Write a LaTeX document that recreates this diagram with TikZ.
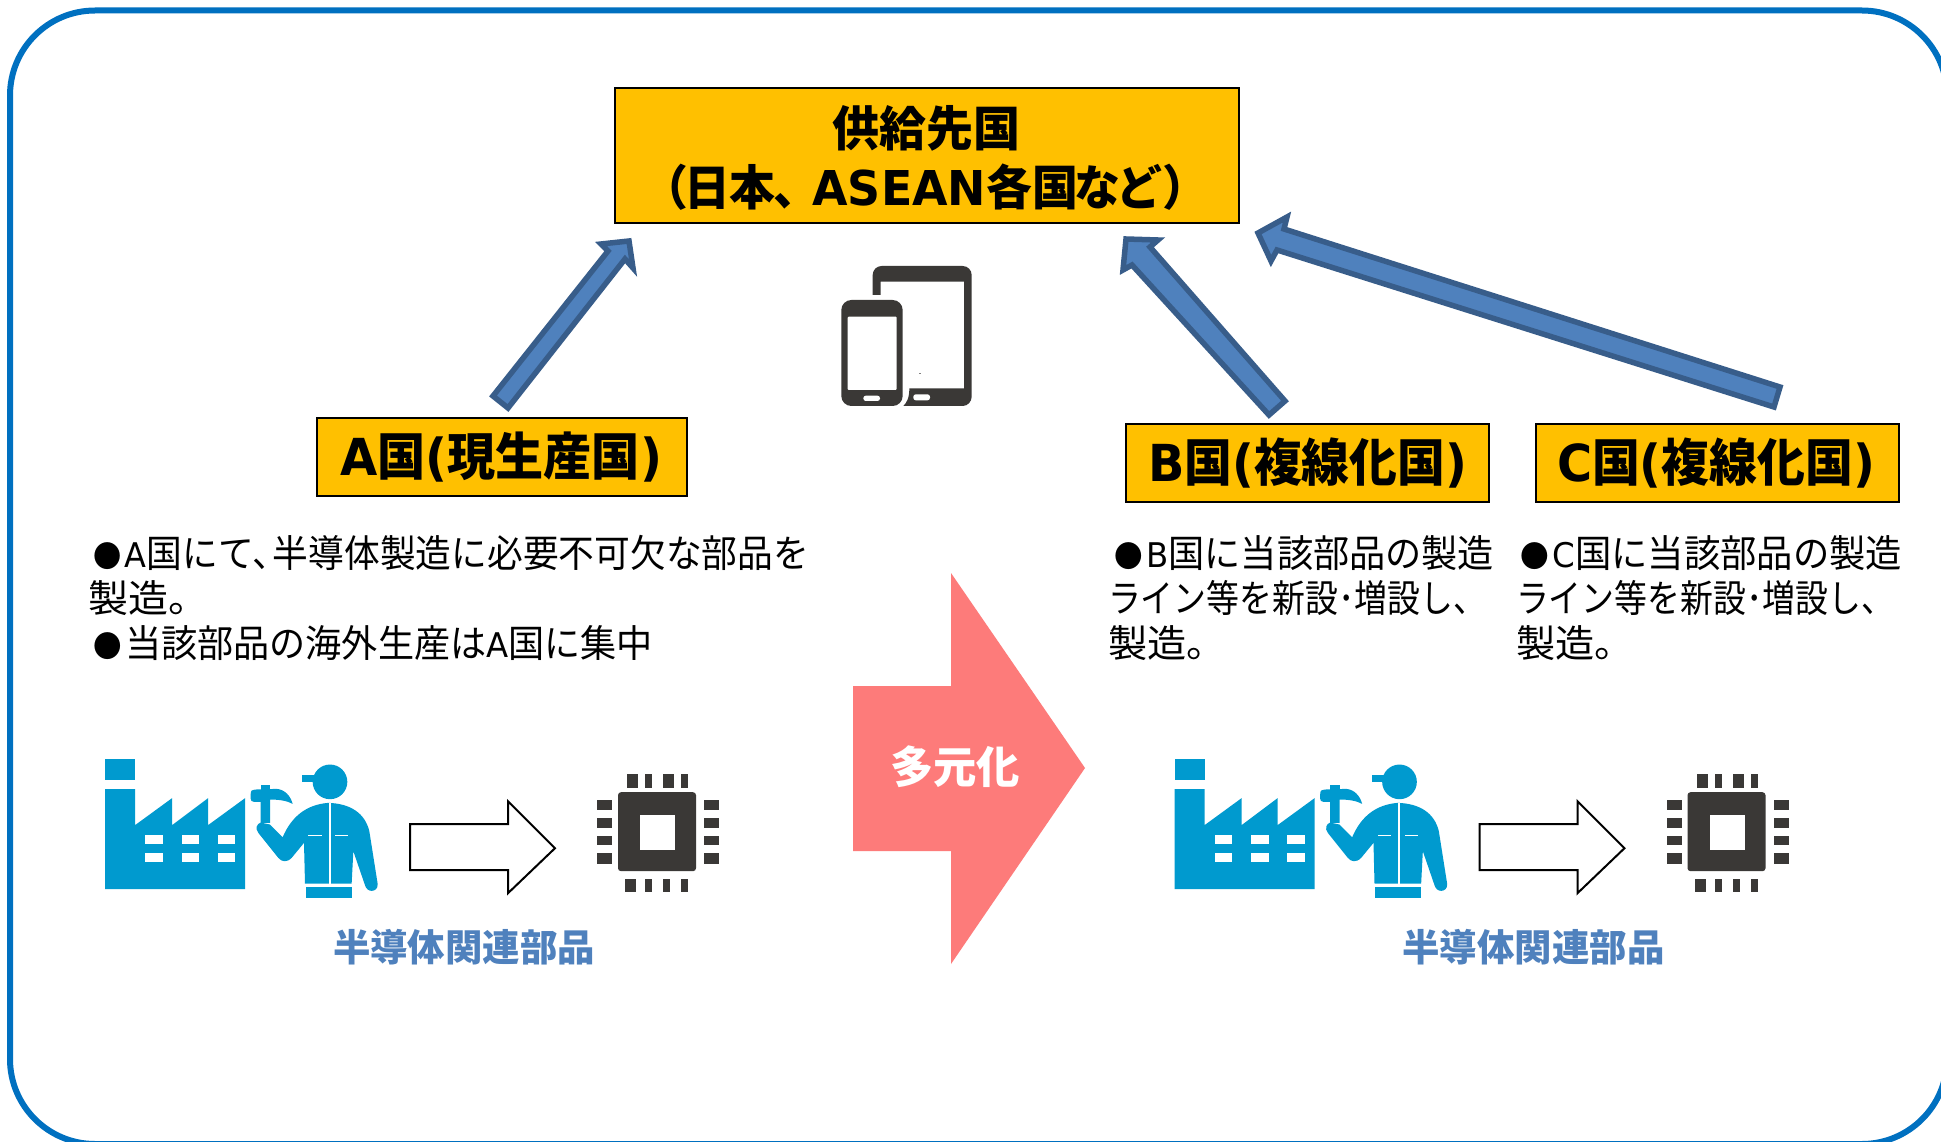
\documentclass[tikz,border=0pt]{standalone}
\usepackage{graphicx}
\usepackage{fontspec}
\newfontfamily\jp{Noto Sans CJK JP}
\newfontfamily\lat{DejaVu Sans}
\definecolor{frameblue}{HTML}{0070C0}
\definecolor{boxgold}{HTML}{FFC000}
\definecolor{arrowfill}{HTML}{4F81BD}
\definecolor{arrowline}{HTML}{385D8A}
\definecolor{pinkarrow}{HTML}{FD7B7A}
\definecolor{iconblue}{HTML}{009ACF}
\definecolor{icondark}{HTML}{3A3836}
\newcommand{\fitline}[3]{\resizebox{#1pt}{\height}{\fontsize{#2}{#2}\selectfont\jp #3}}
\newcommand{\fitbold}[3]{\resizebox{#1pt}{\height}{\fontsize{#2}{#2}\selectfont\jp\bfseries #3}}
\newcommand{\la}[1]{{\lat\fontsize{34pt}{34pt}\selectfont #1}}
\newcommand{\lb}[1]{{\lat\bfseries #1}}
\newcommand{\bul}{{\fontsize{30pt}{30pt}\selectfont ●}\hspace{4pt}}
\newcommand{\tk}{\hspace{-0.42em}}
\tikzset{
  lbl/.style={anchor=base west,inner sep=0pt,outer sep=0pt},
  goldbox/.style={draw=black,line width=2pt,fill=boxgold},
  bluearrow/.style={draw=arrowline,fill=arrowfill,line width=5.5pt,miter limit=10,line join=miter},
  iconb/.style={fill=iconblue,draw=none},
  icond/.style={fill=icondark,draw=none},
  iconw/.style={fill=white,draw=none},
  hollowarrow/.style={draw=black,fill=white,line width=2pt,line join=miter}
}
\newcommand{\makerow}[1]{%
  \begin{scope}[shift={(#1,1.2)}]
    % factory
    \fill[iconb] (105,758) rectangle (135,779);
    \fill[iconb] (105,788) -- (135,788) -- (135,824) -- (172,797) -- (172,824) -- (208,797) -- (208,824) -- (245,797) -- (245,888) -- (105,888) -- cycle;
    \foreach \wx in {145,181.5,217.5}{
      \fill[iconw] (\wx,834) rectangle +(17.5,9);
      \fill[iconw] (\wx,852) rectangle +(17.5,9);
    }
    % worker
    \begin{scope}[shift={(100,750)},scale=1/3]
      \fill[iconb] (690,92) circle (52);
      \fill[iconb] (606,70) rectangle (660,92);
      \fill[iconb] (482,100) rectangle (510,120);
      \fill[iconb] (452,130) .. controls (452,118) and (456,115) .. (465,115) -- (530,113) .. controls (555,115) and (572,135) .. (578,158) .. controls (560,148) and (535,145) .. (510,145) -- (510,215) -- (482,215) -- (482,152) -- (462,152) .. controls (455,152) and (452,148) .. (452,142) -- cycle;
      \fill[iconb] (685,155) .. controls (750,157) and (795,185) .. (808,240) -- (833,398) .. controls (834,412) and (825,419) .. (815,419) .. controls (805,419) and (798,412) .. (795,402) -- (760,300) -- (755,397) -- (615,397) -- (612,275) -- (575,320) .. controls (560,335) and (545,332) .. (535,320) -- (475,245) .. controls (465,232) and (470,218) .. (482,214) -- (510,220) -- (548,258) .. controls (575,195) and (620,160) .. (685,155) -- cycle;
      \fill[iconb] (617,408) rectangle (755,440);
      \fill[iconw] (686,155) rectangle (692,397);
      \fill[iconw] (625,250) rectangle (665,255);
      \fill[iconw] (705,250) rectangle (745,255);
    \end{scope}
    % hollow arrow
    \draw[hollowarrow] (410,823) -- (508,823) -- (508,800) -- (555,847) -- (508,892) -- (508,869) -- (410,869) -- cycle;
    % chip
    \fill[icond,rounded corners=3pt] (618,791) rectangle (696,870);
    \fill[iconw] (640,814) rectangle (675,849);
    \fill[icond] (627,773) rectangle (638,787);
    \fill[icond] (645,773) rectangle (652,787);
    \fill[icond] (663,773) rectangle (674,787);
    \fill[icond] (681,773) rectangle (688,787);
    \fill[icond] (625,878) rectangle (636,891);
    \fill[icond] (645,878) rectangle (652,891);
    \fill[icond] (663,878) rectangle (670,891);
    \fill[icond] (681,878) rectangle (688,891);
    \foreach \py/\ph in {799/10,817/10,835/9,852/11}{
      \fill[icond] (597,\py) rectangle +(15,\ph);
      \fill[icond] (704,\py) rectangle +(15,\ph);
    }
  \end{scope}
}
\begin{document}
\begin{tikzpicture}[x=1pt,y=-1pt]
\useasboundingbox (0,0) rectangle (1941,1142);
\fill[white] (0,0) rectangle (1941,1142);
% frame
\draw[frameblue,line width=6pt,rounded corners=85pt] (10,10.5) rectangle (1947,1144);

% top box
\node[goldbox,minimum width=624pt,minimum height=135pt,inner sep=0pt] (supply) at (927,156) {};
\node[lbl,text=black] (supplyA) at (832,147) {\fitbold{188}{48pt}{供給先国}};
\node[lbl,text=black] (supplyB) at (668,206) {\fitbold{515}{48pt}{\hspace{-0.55em}（\hspace{-0.1em}日本\hspace{-0.05em}、\hspace{-0.15em}\lb{ASEAN}各国\hspace{-0.08em}な\hspace{-0.08em}ど）\hspace{-0.55em}}};

% country boxes
\node[goldbox,minimum width=370pt,minimum height=78pt,inner sep=0pt] (boxA) at (502,456.5) {};
\node[goldbox,minimum width=363pt,minimum height=78pt,inner sep=0pt] (boxB) at (1307.5,462.5) {};
\node[goldbox,minimum width=363pt,minimum height=78pt,inner sep=0pt] (boxC) at (1717.5,462.5) {};
\node[lbl] (titleA) at (340,475) {\fitbold{322}{51pt}{\lb{A}国\lb{(}現生産国\lb{)}}};
\node[lbl] (titleB) at (1148,481) {\fitbold{319}{51pt}{\lb{B}国\lb{(}複線化国\lb{)}}};
\node[lbl] (titleC) at (1557,481) {\fitbold{318}{51pt}{\lb{C}国\lb{(}複線化国\lb{)}}};

% block arrows
\draw[bluearrow] (493,396) -- (608,251) -- (601,244) -- (629,241) -- (633,268) -- (625,259) -- (508,408) -- cycle;
\draw[bluearrow] (1285,401) -- (1150,247) -- (1158,240) -- (1126,239) -- (1123,270) -- (1132,265) -- (1269,415) -- cycle;
\draw[bluearrow] (1780,387) -- (1284,229) -- (1287,217) -- (1258,233) -- (1271,261) -- (1277,250) -- (1774,407) -- cycle;

% devices
\begin{scope}[shift={(800,220)},scale=1/3]
  \fill[icond] (218,225) -- (218,165) .. controls (218,150) and (230,138) .. (245,138) -- (488,138) .. controls (503,138) and (515,150) .. (515,165) -- (515,530) .. controls (515,545) and (503,558) .. (488,558) -- (310,558) .. controls (320,548) and (328,535) .. (328,505) -- (492,505) -- (492,185) -- (242,185) -- (242,225) -- cycle;
  \fill[iconw,rounded corners=2.5pt] (340,523) rectangle (390,541);
  \fill[icond,rounded corners=10pt] (124,240) rectangle (308,558);
  \fill[iconw,rounded corners=1pt] (143,290) rectangle (290,510);
  \fill[iconw,rounded corners=2.5pt] (190,527) rectangle (240,543);
  \fill[gray] (358,459) rectangle (362,463);
\end{scope}

% body text A
\node[lbl] (a1) at (93,567) {\fitline{716}{38pt}{\bul\la{A}国にて\hspace{-0.05em}、\tk 半導体製造に必要不可欠な部品を}};
\node[lbl] (a2) at (88,612) {\fitline{98}{38pt}{製造。\hspace{-0.55em}}};
\node[lbl] (a3) at (93,657) {\fitline{560}{38pt}{\bul 当該部品の海外生産は\la{A}国に集中}};
% body text B
\node[lbl] (b1) at (1114,567) {\fitline{380}{38pt}{\bul\la{B}国に当該部品の製造}};
\node[lbl] (b2) at (1108,612) {\fitline{360}{38pt}{ライン等を新設･増設し、\hspace{-0.55em}}};
\node[lbl] (b3) at (1108,657) {\fitline{96}{38pt}{製造。\hspace{-0.55em}}};
% body text C
\node[lbl] (c1) at (1520,567) {\fitline{382}{38pt}{\bul\la{C}国に当該部品の製造}};
\node[lbl] (c2) at (1516,612) {\fitline{360}{38pt}{ライン等を新設･増設し、\hspace{-0.55em}}};
\node[lbl] (c3) at (1516,657) {\fitline{96}{38pt}{製造。\hspace{-0.55em}}};

% pink arrow
\fill[pinkarrow] (853,686) -- (951,686) -- (951,573) -- (1085,768) -- (951,964) -- (951,851) -- (853,851) -- cycle;
\node[lbl,text=white] (tagen) at (890,783) {\fitbold{130}{44pt}{多元化}};

% icon rows
\makerow{0}
\makerow{1069.5}
\node[lbl,text=arrowfill] (partL) at (333,961.5) {\fitbold{262}{37.5pt}{半導体関連部品}};
\node[lbl,text=arrowfill] (partR) at (1402.5,961.5) {\fitbold{262}{37.5pt}{半導体関連部品}};
\end{tikzpicture}
\end{document}
